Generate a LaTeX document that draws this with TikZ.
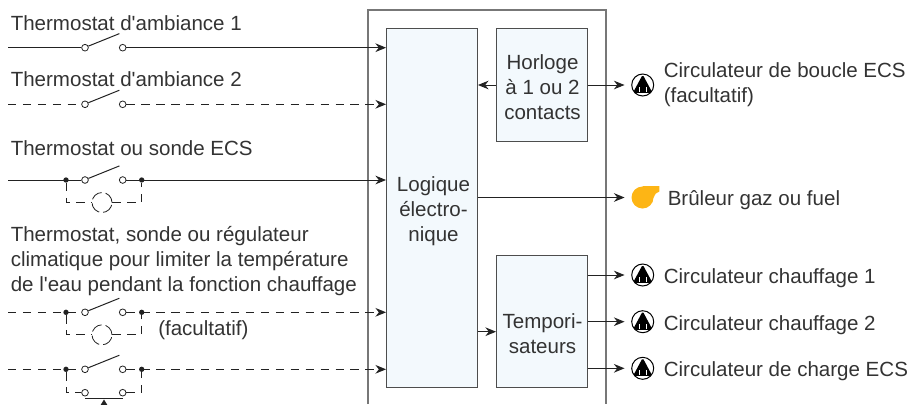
\documentclass[tikz,border=0pt]{standalone}
\usepackage{fontspec}
\newfontfamily\diagfont{Liberation Sans}
\usetikzlibrary{arrows.meta}
\definecolor{linecol}{HTML}{222222}
\definecolor{txtcol}{HTML}{333333}
\definecolor{boxcol}{HTML}{4D4D4D}
\definecolor{boxfill}{HTML}{F3F9FD}
\definecolor{outercol}{HTML}{777777}
\definecolor{burnercol}{HTML}{FDB515}

\begin{document}
\begin{tikzpicture}
		[x=0.75pt, y=0.75pt, font=\diagfont\fontsize{15.4}{18.75}\selectfont, text=txtcol,
		ln/.style={draw=linecol, line width=0.75pt},
		arr/.style={-{Stealth[length=8pt, width=6.5pt]}, draw=linecol, line width=0.75pt},
		dsh/.style={dash pattern=on 6.2pt off 5pt},
		outerframe/.style={draw=outercol, line width=0.8pt},
		box/.style={rectangle, draw=boxcol, fill=boxfill, line width=0.9pt, inner sep=0pt},
		contact/.style={circle, draw=linecol, fill=white, line width=0.6pt, inner sep=0pt, minimum size=5pt},
		junction/.style={circle, fill=linecol, inner sep=0pt, minimum size=4pt},
		sensor/.style={circle, draw=linecol, dash pattern=on 9pt off 3pt, line width=0.6pt, inner sep=0pt, minimum size=15pt},
		lbl/.style={anchor=base west, inner sep=0pt},
		burner/.style={circle, fill=burnercol, inner sep=0pt, minimum size=16.5pt},
		circul/.style={circle, draw=black, fill=white, line width=0.75pt, inner sep=0pt, minimum size=16.5pt,
			path picture={
				\fill[black, rounded corners=1.2pt, shift={(path picture bounding box.center)}] (-7.2pt,-5.6pt) -- (0pt,7.8pt) -- (7.2pt,-5.6pt) -- cycle;
				\draw[white, line width=0.6pt, shift={(path picture bounding box.center)}] (-2.6pt,-5.6pt) -- (-2.6pt,-1.4pt) (2.6pt,-5.6pt) -- (2.6pt,-1.4pt);
				\draw[black, line width=0.7pt, shift={(path picture bounding box.center)}] (-8pt,-5.6pt) -- (8pt,-5.6pt);
			}}]
		\useasboundingbox (0,0) rectangle (912,-404);

		% frame and boxes %
		\draw[outerframe] (368,-404) |- (606,-10) -- (606,-404);
		\node[box, minimum width=68pt, minimum height=269.5pt] (logique) at (432,-208) {};
		\node[lbl, anchor=base, align=center] (logtxt) at (433.5,-241.7) {Logique\\électro-\\nique};
		\node[box, minimum width=68pt, minimum height=85pt] (horloge) at (542,-85) {};
		\node[lbl, anchor=base, align=center] (hortxt) at (542.5,-119.3) {Horloge\\à 1 ou 2\\contacts};
		\node[box, minimum width=68pt, minimum height=99pt] (tempo) at (542,-321.7) {};
		\node[lbl, anchor=base, align=center] (temptxt) at (542.5,-353.3) {Tempori-\\sateurs};

		% outputs %
		\node[circul] (c0) at (642.7,-85) {};
		\node[burner] (br) at (642.5,-197.5) {};
		\fill[burnercol] (br.center) -- (br.north) -- ++(12.6pt,0pt) -- ++(0pt,-4pt) .. controls +(-2.5pt,-0.5pt) and +(1pt,2.5pt) .. (br.east) -- cycle;
		\node[circul] (c1) at (642.7,-275) {};
		\node[circul] (c2) at (642.7,-321.7) {};
		\node[circul] (c3) at (642.7,-368.3) {};
		\coordinate (lt) at (487,-331.7);

		\draw[arr] (horloge.west) -- (horloge.west -| logique.east);
		\draw[arr, shorten >=5pt] (horloge.east) -- (c0);
		\draw[arr, shorten >=5pt] (logique.east |- br) -- (br);
		\draw[arr] (lt -| logique.east) -- (lt -| tempo.west);
		\draw[arr, shorten >=5pt] (tempo.east |- c1) -- (c1);
		\draw[arr, shorten >=5pt] (tempo.east |- c2) -- (c2);
		\draw[arr, shorten >=5pt] (tempo.east |- c3) -- (c3);

		\node[lbl, align=left] (tc0) at (663.5,-102.5) {Circulateur de boucle ECS\\(facultatif)};
		\node[lbl] (tbr) at (667.5,-205) {Brûleur gaz ou fuel};
		\node[lbl] (tc1) at (663.5,-283) {Circulateur chauffage 1};
		\node[lbl] (tc2) at (663.5,-330) {Circulateur chauffage 2};
		\node[lbl] (tc3) at (663.5,-376.7) {Circulateur de charge ECS};

		% input 1 %
		\node[lbl] (t1) at (10.5,-30) {Thermostat d'ambiance 1};
		\coordinate (in1) at (8,-47.7);
		\node[contact] (a1) at (85,-47.7) {};
		\node[contact] (b1) at (122.7,-47.7) {};
		\draw[ln] (in1) -- (a1);
		\draw[ln] (a1.25) -- ++(31,12.5);
		\draw[arr] (b1) -- (b1 -| logique.west);

		% input 2 %
		\node[lbl] (t2) at (10.5,-86.7) {Thermostat d'ambiance 2};
		\coordinate (in2) at (8,-104.3);
		\node[contact] (a2) at (85,-104.3) {};
		\node[contact] (b2) at (122.7,-104.3) {};
		\draw[ln, dsh] (in2) -- (a2);
		\draw[ln] (a2.25) -- ++(31,12.5);
		\draw[arr, dsh] (b2) -- (b2 -| logique.west);

		% input 3 %
		\node[lbl] (t3) at (10.5,-155) {Thermostat ou sonde ECS};
		\coordinate (in3) at (8,-180);
		\node[junction] (p3) at (66,-180) {};
		\node[junction] (q3) at (141.7,-180) {};
		\node[contact] (a3) at (85,-180) {};
		\node[contact] (b3) at (122.7,-180) {};
		\node[sensor] (k3) at (102,-202.5) {};
		\draw[ln] (in3) -- (a3);
		\draw[ln] (a3.25) -- ++(31,12.5);
		\draw[arr] (b3) -- (b3 -| logique.west);
		\draw[ln, dsh] (p3) |- (k3);
		\draw[ln, dsh] (k3) -| (q3);

		% input 4 %
		\node[lbl, align=left] (t4) at (10.5,-291.7) {Thermostat, sonde ou régulateur\\climatique pour limiter la température\\de l'eau pendant la fonction chauffage};
		\node[lbl] (t4b) at (158,-335) {(facultatif)};
		\coordinate (in4) at (8,-312.3);
		\node[junction] (p4) at (66,-312.3) {};
		\node[junction] (q4) at (141.7,-312.3) {};
		\node[contact] (a4) at (85,-312.3) {};
		\node[contact] (b4) at (122.7,-312.3) {};
		\node[sensor] (k4) at (102,-334.8) {};
		\draw[ln, dsh] (in4) -- (a4);
		\draw[ln] (a4.25) -- ++(31,12.5);
		\draw[arr, dsh] (b4) -- (b4 -| logique.west);
		\draw[ln, dsh] (p4) |- (k4);
		\draw[ln, dsh] (k4) -| (q4);

		% input 5 %
		\coordinate (in5) at (8,-369.3);
		\node[junction] (p5) at (66,-369.3) {};
		\node[junction] (q5) at (141.7,-369.3) {};
		\node[contact] (a5) at (85,-369.3) {};
		\node[contact] (b5) at (122.7,-369.3) {};
		\node[contact] (c5) at (85,-392.7) {};
		\node[contact] (d5) at (122.7,-392.7) {};
		\coordinate (bl5) at (85,-398.7);
		\coordinate (br5) at (122.7,-398.7);
		\draw[ln, dsh] (in5) -- (a5);
		\draw[ln] (a5.25) -- ++(31,12.5);
		\draw[arr, dsh] (b5) -- (b5 -| logique.west);
		\draw[ln, dsh] (p5) |- (c5);
		\draw[ln, dsh] (d5) -| (q5);
		\draw[ln] (bl5) -- (br5);
		\fill[linecol] (104,-399.5) -- (100,-406) -- (108,-406) -- cycle;
		\end{tikzpicture}
\end{document}
